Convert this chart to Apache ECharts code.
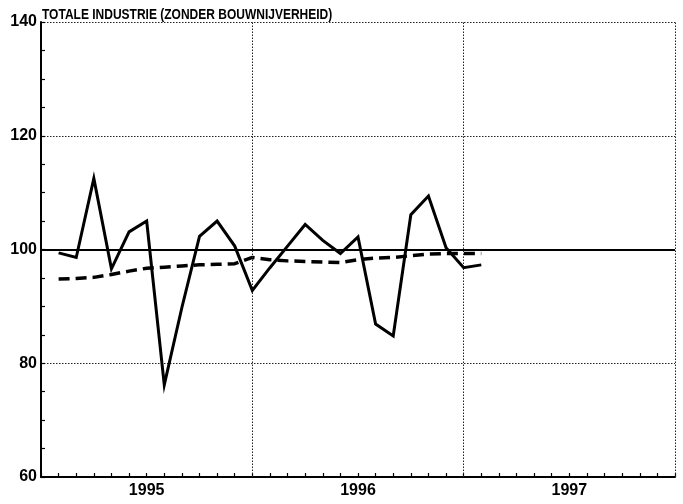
<!DOCTYPE html>
<html><head><meta charset="utf-8">
<script src="https://cdn.jsdelivr.net/npm/echarts@6/dist/echarts.min.js"></script>
<style>html,body{margin:0;padding:0;background:#fff}#c{width:683px;height:504px}</style>
</head><body><div id="c"></div>
<script>
const titleText = 'TOTALE INDUSTRIE (ZONDER BOUWNIJVERHEID)';
// months since Jan 1995 (axis 0..36)
const periods = [1,2,3,4,5,6,7,8,9,10,11,12,13,14,15,16,17,18,19,20,21,22,23,24,25];
const actual = [99.4,98.6,112.5,96.6,103.1,105.0,76.2,89.8,102.3,105.0,100.6,92.8,96.8,100.6,104.4,101.6,99.3,102.2,86.9,84.8,106.1,109.4,100.3,96.8,97.3];
const trend  = [94.8,94.9,95.1,95.6,96.2,96.7,96.9,97.1,97.3,97.4,97.5,98.6,98.2,98.0,97.9,97.8,97.7,98.2,98.5,98.6,98.9,99.2,99.3,99.3,99.3];
const yearLabels = {6:'1995', 18:'1996', 30:'1997'};
const referenceLevel = 100;
const yearBounds = [12, 24, 36];

const chart = echarts.init(document.getElementById('c'), null, {renderer:'canvas'});
const dotted = {color:'#222', width:1, type:[1.5,1.5]};
chart.setOption({
  animation:false,
  backgroundColor:'#fff',
  grid:{left:41, right:8, top:22, bottom:27, containLabel:false},
  graphic:[{type:'text', x:42, y:7, scaleX:0.8, originX:0, style:{text:titleText, font:'bold 15px "Liberation Sans", Arial', fill:'#000'}}],
  xAxis:{type:'value', min:0, max:36, interval:1,
    axisLine:{lineStyle:{color:'#000', width:2}},
    axisTick:{inside:true, length:4, lineStyle:{color:'#000', width:1.2}},
    axisLabel:{formatter:v=>yearLabels[v]||'', color:'#000', fontSize:16, fontWeight:'bold', fontFamily:'"Liberation Sans", Arial', margin:6},
    splitLine:{show:false}},
  yAxis:{type:'value', min:60, max:140, interval:20,
    axisLine:{show:true, lineStyle:{color:'#000', width:2}},
    axisTick:{show:true, inside:true, length:4, lineStyle:{color:'#000', width:1.2}},
    minorTick:{show:true, splitNumber:4, length:4, lineStyle:{color:'#000', width:1.2}},
    axisLabel:{color:'#000', fontSize:16, fontWeight:'bold', fontFamily:'"Liberation Sans", Arial', margin:4},
    splitLine:{show:true, lineStyle:dotted}},
  series:[
    {type:'line', data:periods.map((p,i)=>[p, actual[i]]), symbol:'none', z:5,
     lineStyle:{color:'#000', width:3, join:'miter'},
     markLine:{silent:true, symbol:'none', label:{show:false}, animation:false,
       data:[
         {yAxis:referenceLevel, lineStyle:{color:'#000', width:2, type:'solid'}},
         ...yearBounds.map(b=>({xAxis:b, lineStyle:dotted}))
       ]}},
    {type:'line', data:periods.map((p,i)=>[p, trend[i]]), symbol:'none', z:4,
     lineStyle:{color:'#000', width:3.5, type:[11,6]}}
  ]
});
</script></body></html>
